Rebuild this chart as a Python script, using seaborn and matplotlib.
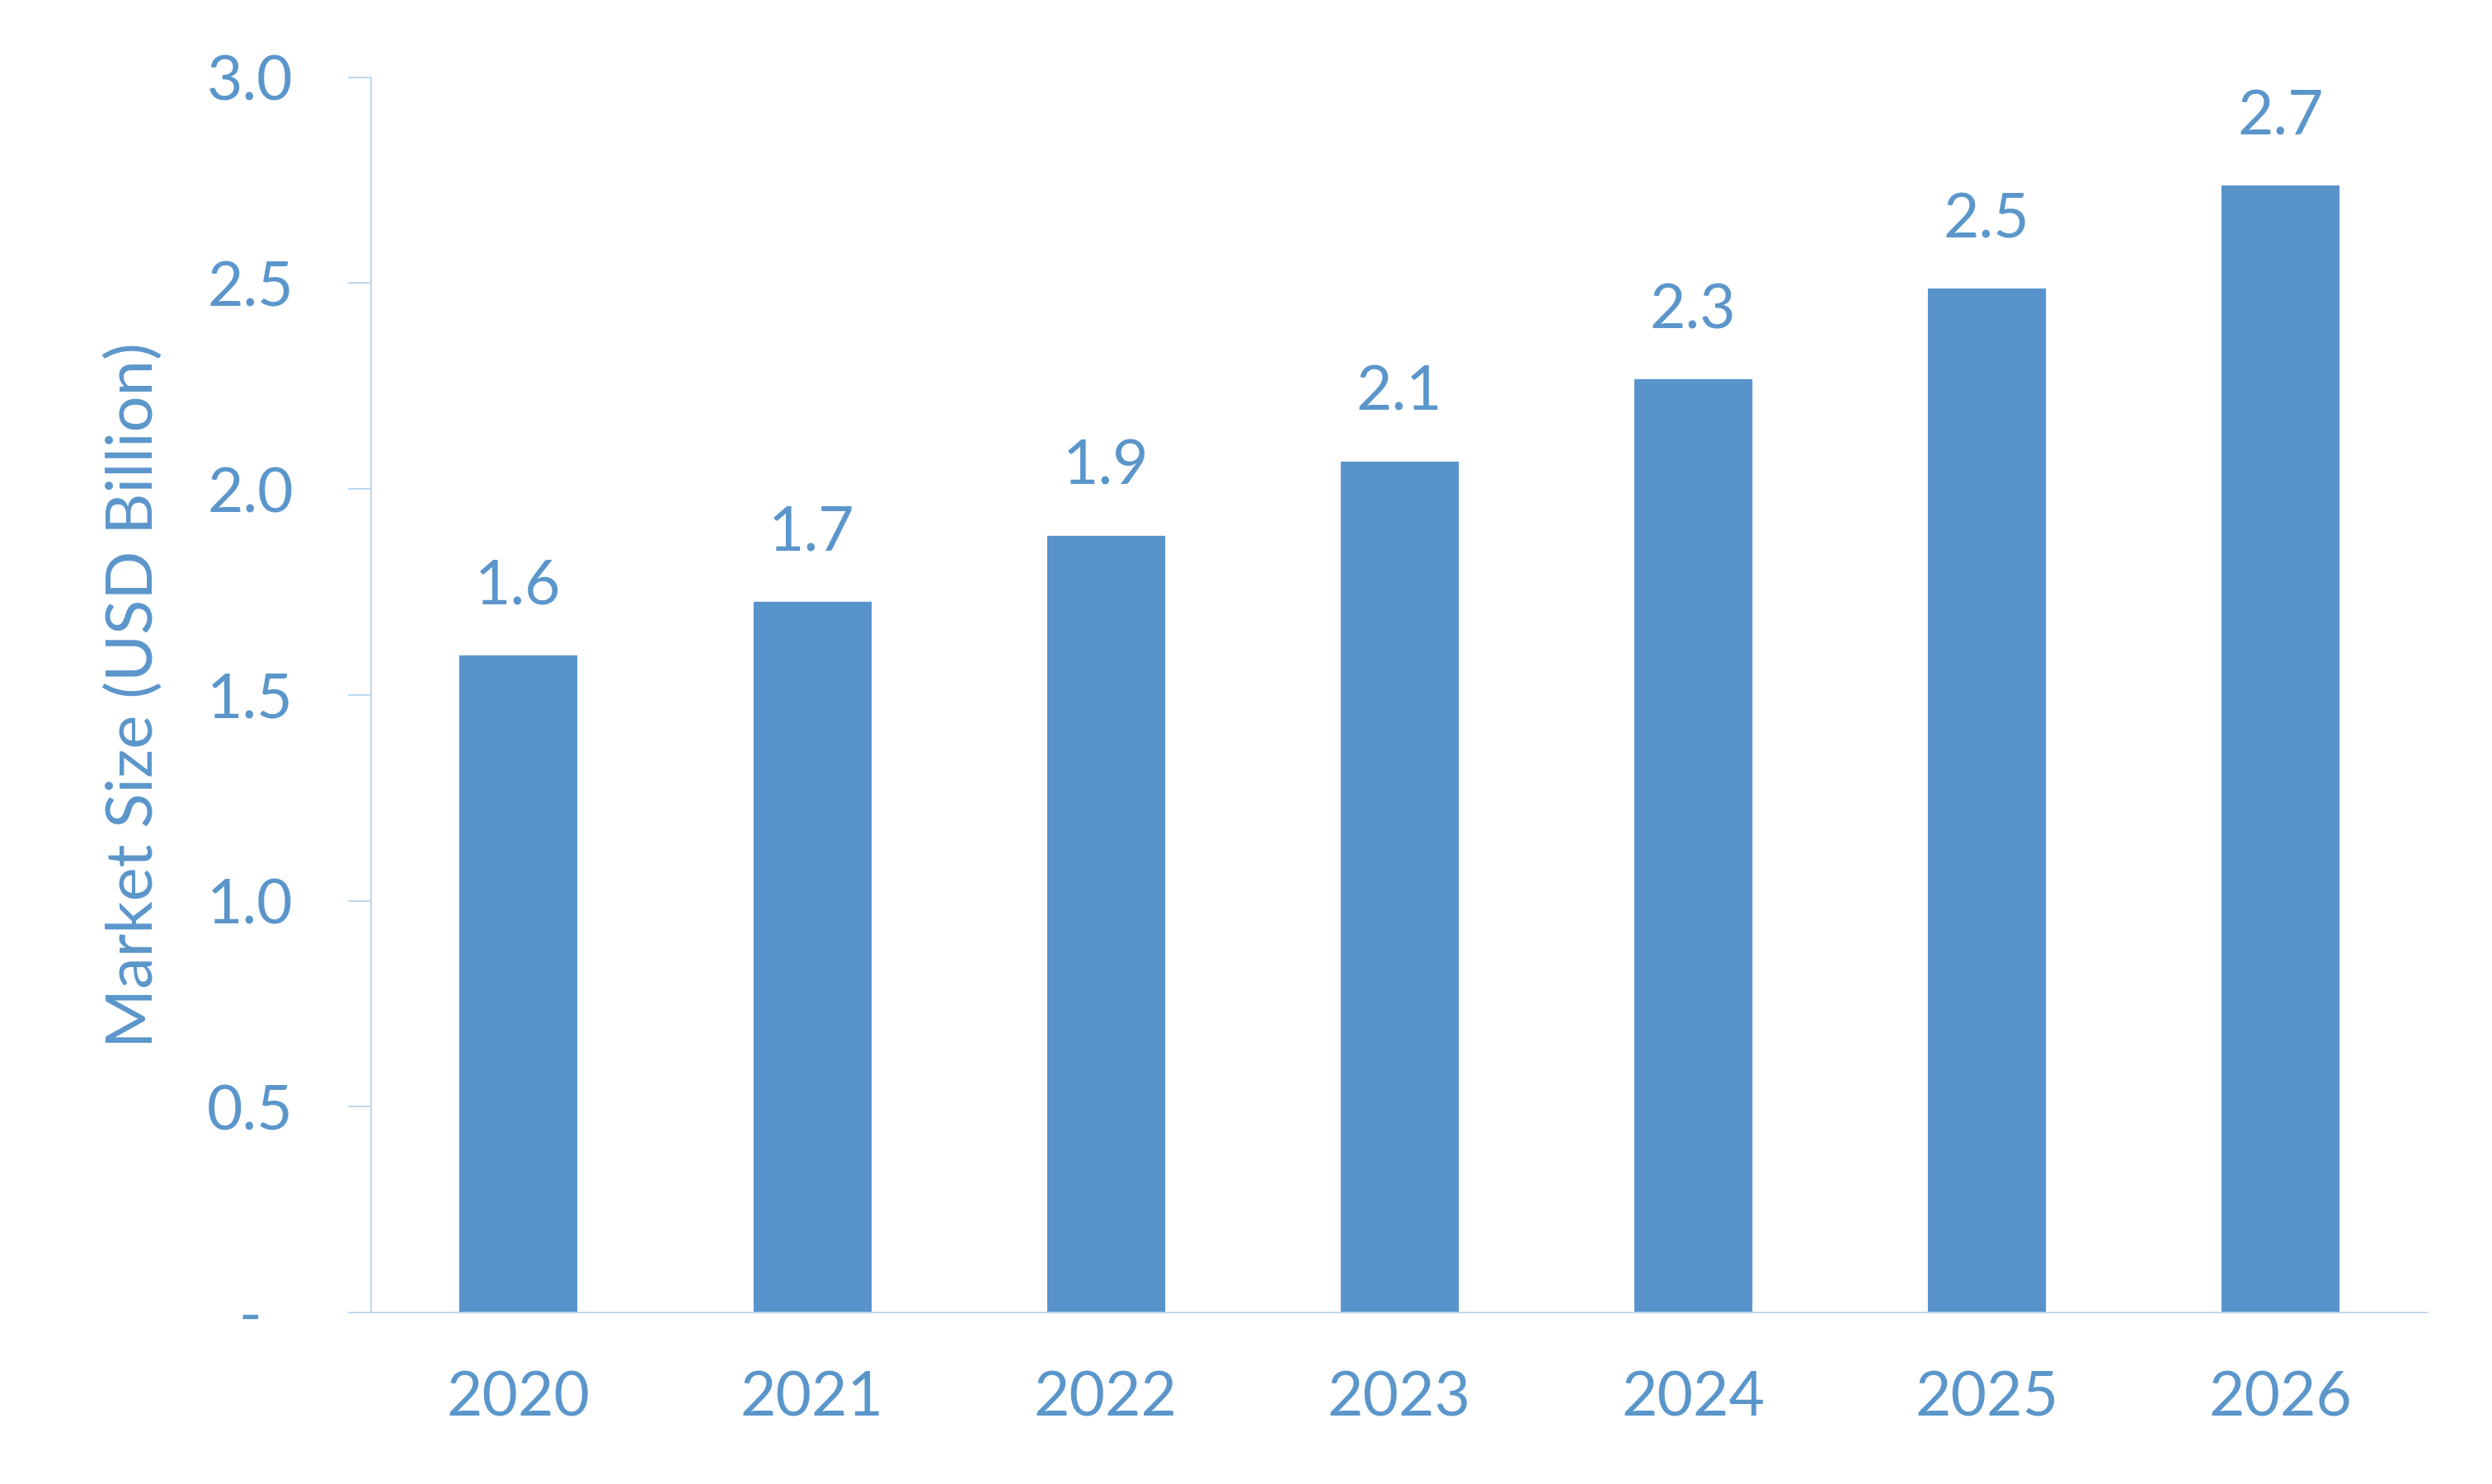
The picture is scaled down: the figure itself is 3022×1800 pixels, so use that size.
import pandas as pd
import numpy as np
import matplotlib
matplotlib.use("Agg")
import matplotlib.pyplot as plt
import seaborn as sns

# Market size by year (USD Billion)
years = ["2020", "2021", "2022", "2023", "2024", "2025", "2026"]
market_size = [1.60, 1.73, 1.89, 2.07, 2.27, 2.49, 2.74]
y_ticks = [0.0, 0.5, 1.0, 1.5, 2.0, 2.5, 3.0]
y_tick_labels = ["-  ", "0.5", "1.0", "1.5", "2.0", "2.5", "3.0"]

df = pd.DataFrame({"year": years, "size": market_size})

bar_color = "#5894CB"
text_color = "#5B96CB"
axis_color = "#BDD7EE"

sns.set_theme(style="white")
plt.rcParams["font.family"] = ["Lato", "DejaVu Sans"]

fig = plt.figure(figsize=(15.11, 9.0), dpi=200)
ax = fig.add_axes([0.149, 0.1155, 0.825, 0.8325])

sns.barplot(data=df, x="year", y="size", color=bar_color, width=0.41,
            saturation=1, ax=ax)

# value labels above bars
for c in ax.containers:
    ax.bar_label(c, fmt="%.1f", padding=17, fontsize=27, color=text_color)

ax.set_ylim(0, 3.0)
ax.set_xlim(-0.5, len(years) - 0.5)
ax.set_yticks(y_ticks)
ax.set_yticklabels(y_tick_labels)

ax.set_xlabel("")
ax.set_ylabel("Market Size (USD Billion)", fontsize=28, color=text_color)
ax.yaxis.set_label_coords(-0.101, 0.5)

for side in ["top", "right"]:
    ax.spines[side].set_visible(False)
for side in ["left", "bottom"]:
    ax.spines[side].set_color(axis_color)
    ax.spines[side].set_linewidth(0.7)

ax.tick_params(axis="y", direction="out", length=10, width=0.7,
               color=axis_color, labelsize=27, labelcolor=text_color, pad=24,
               left=True)
ax.tick_params(axis="x", length=0, labelsize=27, labelcolor=text_color, pad=25)

fig.savefig("out.png", dpi=200, facecolor="white")
